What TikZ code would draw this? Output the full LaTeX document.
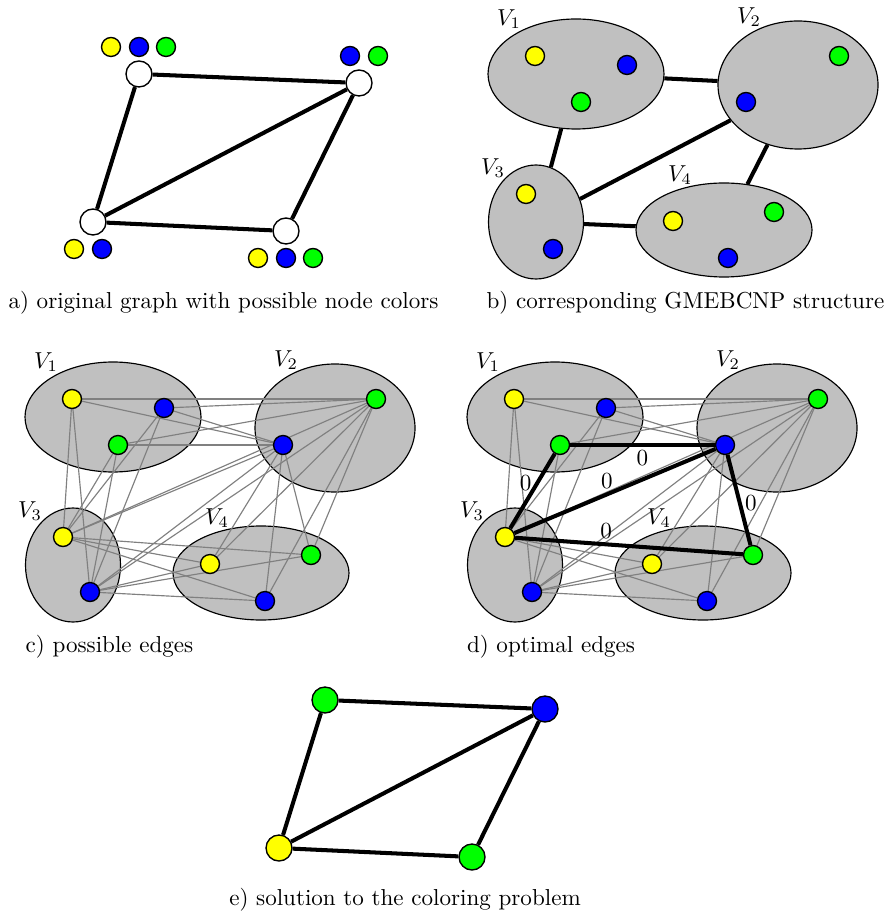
\documentclass[tikz,border=0pt]{standalone}
\usetikzlibrary{shapes.geometric}
\pgfdeclarelayer{back}
\pgfdeclarelayer{mid}
\pgfsetlayers{back,mid,main}

\def\u{0.4335pt}
\definecolor{dotyellow}{RGB}{255,255,0}
\definecolor{dotblue}{RGB}{0,0,255}
\definecolor{dotgreen}{RGB}{0,255,0}
\definecolor{clusterfill}{RGB}{192,192,192}
\definecolor{edgegray}{RGB}{128,128,128}

\tikzset{
  colordot/.style={circle, draw=black, line width=0.6pt, minimum size=19*\u, inner sep=0pt},
  gvertex/.style={circle, draw=black, line width=0.6pt, minimum size=26*\u, inner sep=0pt},
  clusterset/.style={ellipse, draw=black, line width=0.5pt, fill=clusterfill, inner sep=0pt},
  thickedge/.style={draw=black, line width=1.75pt},
  thinedge/.style={draw=edgegray, line width=0.5pt},
  clabel/.style={inner sep=0pt},
  captiontext/.style={anchor=base, inner sep=0pt},
  zero/.style={inner sep=1.5pt},
}

% clusters V1..V4 with their colour candidates; #1 is the name prefix
\newcommand\drawclusters[1]{%
  \begin{pgfonlayer}{back}
    \node[clusterset, minimum width=176*\u, minimum height=110*\u] (#1V1) at (576,74) {};
    \node[clusterset, minimum width=160*\u, minimum height=128*\u] (#1V2) at (798,85) {};
    \node[clusterset, minimum width=95*\u,  minimum height=114*\u] (#1V3) at (536,222) {};
    \node[clusterset, minimum width=176*\u, minimum height=94*\u]  (#1V4) at (724,230) {};
  \end{pgfonlayer}
  \node[clabel] (#1L1) at (509,19)  {$V_1$};
  \node[clabel] (#1L2) at (749,17)  {$V_2$};
  \node[clabel] (#1L3) at (493,168) {$V_3$};
  \node[clabel] (#1L4) at (680,175) {$V_4$};
  \node[colordot, fill=dotyellow] (#1-1y) at (535,56)  {};
  \node[colordot, fill=dotblue]   (#1-1b) at (627,65)  {};
  \node[colordot, fill=dotgreen]  (#1-1g) at (581,102) {};
  \node[colordot, fill=dotgreen]  (#1-2g) at (839,56)  {};
  \node[colordot, fill=dotblue]   (#1-2b) at (746,102) {};
  \node[colordot, fill=dotyellow] (#1-3y) at (526,194) {};
  \node[colordot, fill=dotblue]   (#1-3b) at (553,249) {};
  \node[colordot, fill=dotyellow] (#1-4y) at (673,221) {};
  \node[colordot, fill=dotgreen]  (#1-4g) at (774,212) {};
  \node[colordot, fill=dotblue]   (#1-4b) at (728,258) {};
}

% every candidate edge between clusters that are adjacent
\newcommand\drawcandidates[1]{%
  \begin{pgfonlayer}{mid}
    \foreach \s in {1y,1b,1g}{\foreach \t in {2b,2g,3y,3b}{\draw[thinedge] (#1-\s) -- (#1-\t);}}
    \foreach \s in {2b,2g}{\foreach \t in {3y,3b,4y,4b,4g}{\draw[thinedge] (#1-\s) -- (#1-\t);}}
    \foreach \s in {3y,3b}{\foreach \t in {4y,4b,4g}{\draw[thinedge] (#1-\s) -- (#1-\t);}}
  \end{pgfonlayer}
}

\begin{document}
\begin{tikzpicture}[x=\u, y=-\u]
\useasboundingbox (0,0) rectangle (888,916);

% a) original graph
\node[gvertex, fill=white] (a1) at (139,74)  {};
\node[gvertex, fill=white] (a2) at (359,83)  {};
\node[gvertex, fill=white] (a3) at (93,222)  {};
\node[gvertex, fill=white] (a4) at (286,231) {};
\draw[thickedge] (a1) -- (a2);
\draw[thickedge] (a1) -- (a3);
\draw[thickedge] (a2) -- (a3);
\draw[thickedge] (a2) -- (a4);
\draw[thickedge] (a3) -- (a4);
\node[colordot, fill=dotyellow] (a1y) at (111,47) {};
\node[colordot, fill=dotblue]   (a1b) at (139,47) {};
\node[colordot, fill=dotgreen]  (a1g) at (166,47) {};
\node[colordot, fill=dotblue]   (a2b) at (350,56) {};
\node[colordot, fill=dotgreen]  (a2g) at (378,56) {};
\node[colordot, fill=dotyellow] (a3y) at (74,249)  {};
\node[colordot, fill=dotblue]   (a3b) at (102,249) {};
\node[colordot, fill=dotyellow] (a4y) at (258,258) {};
\node[colordot, fill=dotblue]   (a4b) at (286,258) {};
\node[colordot, fill=dotgreen]  (a4g) at (313,258) {};
\node[captiontext] (capa) at (223.5,309) {a) original graph with possible node colors};

% b) cluster structure
\drawclusters{b}
\draw[thickedge] (bV1) -- (bV2);
\draw[thickedge] (bV1) -- (bV3);
\draw[thickedge] (bV2) -- (bV3);
\draw[thickedge] (bV2) -- (bV4);
\draw[thickedge] (bV3) -- (bV4);
\node[captiontext] (capb) at (685.5,309) {b) corresponding GMEBCNP structure};

% c) all candidate edges
\begin{scope}[shift={(-463,343)}]
  \drawclusters{c}
  \drawcandidates{c}
\end{scope}
\node[captiontext] (capc) at (109.5,652) {c) possible edges};

% d) optimal edges on top of the candidates
\begin{scope}[shift={(-21,343)}]
  \drawclusters{d}
  \drawcandidates{d}
  \begin{pgfonlayer}{mid}
    \draw[thickedge] (d-1g) -- node[zero, pos=0.5, below] (z1) {0} (d-2b);
    \draw[thickedge] (d-1g) -- node[zero, pos=0.4, left] (z2) {0} (d-3y);
    \draw[thickedge] (d-3y) -- node[zero, pos=0.46, above] (z3) {0} (d-2b);
    \draw[thickedge] (d-2b) -- node[zero, pos=0.53, right] (z4) {0} (d-4g);
    \draw[thickedge] (d-3y) -- node[zero, pos=0.4, above] (z5) {0} (d-4g);
  \end{pgfonlayer}
\end{scope}
\node[captiontext] (capd) at (551,652) {d) optimal edges};

% e) resulting colouring
\begin{scope}[shift={(186,626)}]
  \node[gvertex, fill=dotgreen]  (e1) at (139,74)  {};
  \node[gvertex, fill=dotblue]   (e2) at (359,83)  {};
  \node[gvertex, fill=dotyellow] (e3) at (93,222)  {};
  \node[gvertex, fill=dotgreen]  (e4) at (286,231) {};
  \draw[thickedge] (e1) -- (e2);
  \draw[thickedge] (e1) -- (e3);
  \draw[thickedge] (e2) -- (e3);
  \draw[thickedge] (e2) -- (e4);
  \draw[thickedge] (e3) -- (e4);
\end{scope}
\node[captiontext] (cape) at (405,905) {e) solution to the coloring problem};
\end{tikzpicture}
\end{document}
